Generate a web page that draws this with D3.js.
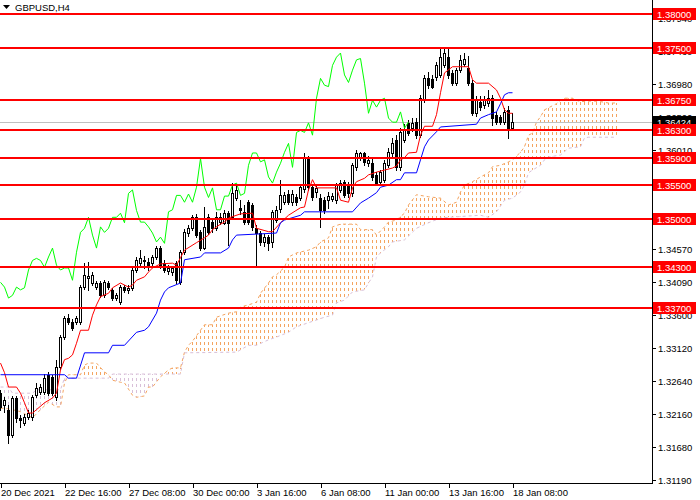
<!DOCTYPE html>
<html>
<head>
<meta charset="utf-8">
<script src="https://cdn.jsdelivr.net/npm/d3@7"></script>
<style>
  html, body { margin: 0; padding: 0; background: #fff; }
  svg { display: block; font-family: "Liberation Sans", Arial, sans-serif; }
</style>
</head>
<body>
<div id="chart"></div>
<script>
// GBPUSD H4 with Ichimoku

const symbolTitle = "GBPUSD,H4";

// candles, one per H4 bar (bar 0 = 20 Dec 2021 00:00)
const opens = [1.3246,1.3229,1.3221,1.3185,1.3239,1.3210,1.3202,1.3211,1.3211,1.3243,
  1.3248,1.3248,1.3272,1.3270,1.3240,1.3284,1.3328,1.3356,1.3350,1.3350,
  1.3350,1.3401,1.3414,1.3407,1.3401,1.3407,1.3389,1.3407,1.3397,1.3385,
  1.3379,1.3401,1.3397,1.3400,1.3426,1.3436,1.3438,1.3438,1.3436,1.3445,
  1.3458,1.3436,1.3424,1.3423,1.3436,1.3408,1.3452,1.3480,1.3487,1.3503,
  1.3481,1.3459,1.3503,1.3496,1.3487,1.3496,1.3495,1.3509,1.3503,1.3531,
  1.3516,1.3511,1.3525,1.3521,1.3487,1.3480,1.3467,1.3474,1.3467,1.3499,
  1.3514,1.3525,1.3537,1.3525,1.3532,1.3531,1.3543,1.3589,1.3547,1.3540,
  1.3531,1.3528,1.3528,1.3530,1.3528,1.3543,1.3554,1.3551,1.3538,1.3576,
  1.3589,1.3597,1.3582,1.3582,1.3565,1.3554,1.3557,1.3579,1.3597,1.3616,
  1.3576,1.3616,1.3641,1.3633,1.3642,1.3623,1.3674,1.3706,1.3705,1.3708,
  1.3711,1.3725,1.3737,1.3714,1.3699,1.3718,1.3728,1.3721,1.3699,1.3655,
  1.3671,1.3667,1.3669,1.3677,1.3652,1.3649,1.3642,1.3660,1.3633];
const highs = [1.3251,1.3240,1.3229,1.3242,1.3242,1.3214,1.3216,1.3221,1.3243,1.3261,
  1.3259,1.3274,1.3277,1.3272,1.3294,1.3331,1.3359,1.3362,1.3354,1.3359,
  1.3404,1.3436,1.3438,1.3423,1.3410,1.3410,1.3411,1.3410,1.3400,1.3392,
  1.3404,1.3404,1.3404,1.3429,1.3445,1.3455,1.3446,1.3443,1.3448,1.3461,
  1.3461,1.3440,1.3433,1.3432,1.3439,1.3455,1.3486,1.3492,1.3506,1.3508,
  1.3484,1.3518,1.3508,1.3502,1.3511,1.3509,1.3513,1.3512,1.3553,1.3549,
  1.3528,1.3521,1.3528,1.3524,1.3492,1.3483,1.3478,1.3477,1.3514,1.3519,
  1.3557,1.3540,1.3543,1.3543,1.3537,1.3551,1.3597,1.3592,1.3551,1.3549,
  1.3537,1.3532,1.3540,1.3538,1.3553,1.3557,1.3557,1.3554,1.3582,1.3601,
  1.3599,1.3599,1.3592,1.3589,1.3569,1.3572,1.3587,1.3604,1.3619,1.3623,
  1.3633,1.3639,1.3645,1.3648,1.3648,1.3681,1.3711,1.3715,1.3711,1.3730,
  1.3750,1.3750,1.3750,1.3718,1.3721,1.3740,1.3743,1.3739,1.3703,1.3680,
  1.3680,1.3680,1.3689,1.3681,1.3657,1.3652,1.3662,1.3665,1.3655];
const lows = [1.3221,1.3218,1.3173,1.3182,1.3204,1.3196,1.3199,1.3208,1.3207,1.3240,
  1.3245,1.3245,1.3243,1.3243,1.3236,1.3281,1.3325,1.3347,1.3338,1.3347,
  1.3347,1.3398,1.3397,1.3404,1.3398,1.3386,1.3386,1.3398,1.3382,1.3382,
  1.3376,1.3394,1.3392,1.3397,1.3423,1.3432,1.3429,1.3426,1.3432,1.3442,
  1.3429,1.3423,1.3420,1.3419,1.3407,1.3405,1.3449,1.3476,1.3484,1.3474,
  1.3455,1.3456,1.3478,1.3481,1.3484,1.3493,1.3493,1.3462,1.3500,1.3528,
  1.3508,1.3493,1.3493,1.3484,1.3430,1.3462,1.3461,1.3455,1.3459,1.3496,
  1.3511,1.3522,1.3522,1.3521,1.3521,1.3528,1.3540,1.3543,1.3528,1.3532,
  1.3489,1.3509,1.3516,1.3527,1.3524,1.3540,1.3532,1.3532,1.3534,1.3572,
  1.3587,1.3579,1.3578,1.3557,1.3550,1.3550,1.3554,1.3576,1.3592,1.3572,
  1.3572,1.3613,1.3623,1.3629,1.3619,1.3620,1.3671,1.3692,1.3692,1.3703,
  1.3708,1.3722,1.3706,1.3696,1.3696,1.3715,1.3724,1.3696,1.3652,1.3651,
  1.3660,1.3662,1.3665,1.3638,1.3639,1.3639,1.3639,1.3619,1.3630];
const closes = [1.3226,1.3236,1.3185,1.3239,1.3210,1.3207,1.3211,1.3217,1.3240,1.3253,
  1.3255,1.3268,1.3246,1.3246,1.3284,1.3328,1.3356,1.3350,1.3341,1.3356,
  1.3401,1.3419,1.3417,1.3419,1.3407,1.3389,1.3408,1.3401,1.3385,1.3389,
  1.3401,1.3397,1.3400,1.3426,1.3440,1.3443,1.3440,1.3430,1.3445,1.3458,
  1.3433,1.3426,1.3429,1.3429,1.3411,1.3452,1.3481,1.3487,1.3503,1.3477,
  1.3458,1.3489,1.3481,1.3487,1.3503,1.3503,1.3509,1.3495,1.3538,1.3543,
  1.3513,1.3496,1.3496,1.3489,1.3480,1.3467,1.3474,1.3465,1.3511,1.3514,
  1.3535,1.3535,1.3525,1.3537,1.3525,1.3547,1.3589,1.3547,1.3532,1.3546,
  1.3514,1.3514,1.3534,1.3534,1.3550,1.3553,1.3535,1.3538,1.3579,1.3597,
  1.3597,1.3584,1.3587,1.3562,1.3553,1.3569,1.3582,1.3598,1.3611,1.3576,
  1.3627,1.3630,1.3627,1.3641,1.3623,1.3677,1.3706,1.3696,1.3694,1.3725,
  1.3737,1.3743,1.3711,1.3700,1.3718,1.3733,1.3735,1.3699,1.3655,1.3674,
  1.3664,1.3674,1.3677,1.3648,1.3642,1.3642,1.3657,1.3633,1.36424];

// Ichimoku lines as [bar, price] points
const tenkan = [[0,1.3290],[1,1.3276],[2,1.3255],[4,1.3255],[5,1.3246],[6,1.3232],[7,1.3217],[8,1.3217],
  [9,1.3222],[11,1.3232],[13,1.3239],[14,1.3246],[15,1.3280],[16,1.3295],[17,1.3297],[18,1.3302],
  [19,1.3319],[20,1.3338],[22,1.3338],[23,1.3360],[24,1.3375],[25,1.3387],[27,1.3392],[28,1.3400],
  [30,1.3407],[32,1.3401],[33,1.3404],[34,1.3411],[36,1.3416],[37,1.3423],[38,1.3429],[40,1.3435],
  [43,1.3436],[44,1.3433],[45,1.3444],[46,1.3455],[49,1.3466],[51,1.3473],[52,1.3477],[53,1.3485],
  [55,1.3493],[56,1.3496],[57,1.3502],[60,1.3508],[63,1.3509],[64,1.3487],[67,1.3482],[68,1.3482],
  [70,1.3495],[72,1.3506],[75,1.3517],[76,1.3518],[77,1.3543],[78,1.3558],[79,1.3546],[84,1.3546],
  [85,1.3528],[87,1.3525],[88,1.3546],[89,1.3555],[91,1.3560],[92,1.3565],[94,1.3569],[96,1.3572],
  [98,1.3575],[99,1.3578],[100,1.3587],[101,1.3590],[102,1.3597],[104,1.3598],[105,1.3623],[106,1.3636],
  [108,1.3636],[109,1.3653],[110,1.3685],[111,1.3714],[113,1.3723],[117,1.3723],[118,1.3704],[119,1.3699],
  [122,1.3699],[124,1.3689],[125,1.3677],[126,1.3660],[127,1.3655],[128,1.3655]];
const kijun = [[0,1.3273],[16,1.3273],[17,1.3268],[19,1.3268],[21,1.3305],[27,1.3305],[28,1.3316],[31,1.3316],
  [34,1.3335],[36,1.3338],[37,1.3343],[39,1.3363],[40,1.3382],[41,1.3394],[42,1.3400],[45,1.3407],
  [46,1.3441],[50,1.3445],[51,1.3451],[55,1.3451],[57,1.3458],[58,1.3470],[59,1.3477],[69,1.3480],
  [70,1.3495],[71,1.3499],[75,1.3506],[76,1.3511],[88,1.3511],[90,1.3524],[92,1.3531],[94,1.3539],
  [95,1.3547],[97,1.3550],[99,1.3558],[100,1.3558],[101,1.3568],[104,1.3568],[105,1.3587],[106,1.3606],
  [107,1.3616],[109,1.3628],[110,1.3635],[119,1.3639],[120,1.3648],[122,1.3653],[124,1.3657],[125,1.3669],
  [126,1.3682],[127,1.3685],[128,1.3685]];
const senkouA = [[0,1.3224],[1,1.3224],[3,1.3222],[5,1.3219],[6,1.3216],[8,1.3210],[10,1.3222],[12,1.3233],
  [14,1.3226],[15,1.3226],[16,1.3261],[17,1.3273],[20,1.3273],[21,1.3287],[22,1.3290],[24,1.3290],
  [26,1.3277],[27,1.3273],[28,1.3265],[30,1.3262],[31,1.3261],[33,1.3243],[34,1.3240],[36,1.3242],
  [37,1.3255],[38,1.3255],[40,1.3270],[42,1.3280],[43,1.3283],[45,1.3283],[46,1.3306],[47,1.3316],
  [48,1.3322],[49,1.3330],[50,1.3338],[51,1.3346],[53,1.3346],[54,1.3357],[57,1.3363],[59,1.3365],
  [60,1.3372],[62,1.3375],[64,1.3379],[65,1.3392],[67,1.3407],[68,1.3416],[69,1.3419],[71,1.3430],
  [72,1.3445],[74,1.3451],[77,1.3455],[79,1.3460],[80,1.3467],[82,1.3473],[83,1.3489],[85,1.3493],
  [89,1.3493],[90,1.3485],[93,1.3485],[94,1.3477],[96,1.3489],[97,1.3496],[99,1.3499],[101,1.3509],
  [102,1.3521],[104,1.3536],[107,1.3533],[110,1.3531],[112,1.3521],[114,1.3525],[115,1.3540],[116,1.3550],
  [118,1.3555],[120,1.3562],[122,1.3568],[123,1.3577],[125,1.3579],[127,1.3584],[128,1.3587],[130,1.3598],
  [131,1.3606],[132,1.3623],[133,1.3626],[134,1.3642],[135,1.3650],[136,1.3660],[137,1.3663],[139,1.3669],
  [140,1.3674],[141,1.3677],[143,1.3677],[144,1.3674],[145,1.3672],[148,1.3673],[150,1.3672],[152,1.3670],
  [154,1.3670]];
const senkouB = [[0,1.3255],[2,1.3255],[3,1.3246],[8,1.3246],[9,1.3251],[15,1.3251],[16,1.3268],[27,1.3268],
  [28,1.3274],[45,1.3274],[46,1.3305],[59,1.3306],[62,1.3316],[64,1.3316],[67,1.3324],[69,1.3328],
  [72,1.3335],[74,1.3343],[77,1.3349],[79,1.3353],[81,1.3357],[83,1.3360],[84,1.3378],[86,1.3382],
  [88,1.3394],[91,1.3397],[92,1.3407],[93,1.3416],[94,1.3445],[95,1.3451],[97,1.3460],[98,1.3467],
  [101,1.3470],[104,1.3487],[107,1.3495],[110,1.3502],[112,1.3503],[120,1.3506],[122,1.3503],[124,1.3511],
  [126,1.3528],[128,1.3531],[130,1.3540],[131,1.3550],[132,1.3568],[133,1.3572],[135,1.3579],[136,1.3587],
  [137,1.3591],[140,1.3594],[142,1.3604],[145,1.3606],[146,1.3619],[147,1.3620],[154,1.3620]];
const chikouShift = 26;

// horizontal levels and labels
const levels = [1.38000, 1.37500, 1.36750, 1.36300, 1.35900, 1.35500, 1.35000, 1.34300, 1.33700];
const lastPrice = 1.36424;
const priceTicks = [1.37940, 1.37460, 1.36980, 1.36500, 1.36010, 1.35530, 1.35050, 1.34570,
  1.34090, 1.33600, 1.33120, 1.32640, 1.32160, 1.31680, 1.31190];
const timeTickBars = [0, 16, 32, 48, 64, 80, 96, 112, 128];
const timeTickLabels = ["20 Dec 2021", "22 Dec 16:00", "27 Dec 08:00", "30 Dec 00:00", "3 Jan 16:00",
  "6 Jan 08:00", "11 Jan 00:00", "13 Jan 16:00", "18 Jan 08:00"];

const W = 700, H = 500, plotW = 652, plotH = 483;

const x = d3.scaleLinear().domain([0, 1]).range([0.5, 4.5]);           // 4 px per bar
const y = d3.scaleLinear().domain([1.31148, 1.38205]).range([plotH, 0]);

const svg = d3.select("#chart").append("svg")
  .attr("width", W).attr("height", H);

const defs = svg.append("defs");
defs.append("clipPath").attr("id", "plotClip")
  .append("rect").attr("x", 0).attr("y", 0).attr("width", plotW).attr("height", plotH);

// dotted vertical hatch, one column per bar
function hatch(id, color) {
  const p = defs.append("pattern").attr("id", id)
    .attr("patternUnits", "userSpaceOnUse")
    .attr("x", 0).attr("y", 0).attr("width", 4).attr("height", 6);
  p.append("rect").attr("x", 0).attr("y", 0).attr("width", 1).attr("height", 3).attr("fill", color);
}
hatch("hatchUp", "#f4a460");
hatch("hatchDown", "#d8bfd8");

const pt = d => [x(d[0]), y(d[1])];
const line = d3.line();

// clip regions above / below senkou B
const bPts = senkouB.map(pt);
const bFirst = bPts[0][0] - 3, bLast = bPts[bPts.length - 1][0] + 3;
const abovePoly = [[bFirst, bPts[0][1]], ...bPts, [bLast, bPts[bPts.length - 1][1]], [bLast, -10], [bFirst, -10]];
const belowPoly = [[bFirst, bPts[0][1]], ...bPts, [bLast, bPts[bPts.length - 1][1]], [bLast, plotH + 10], [bFirst, plotH + 10]];
defs.append("clipPath").attr("id", "aboveB").append("path").attr("d", line(abovePoly) + "Z");
defs.append("clipPath").attr("id", "belowB").append("path").attr("d", line(belowPoly) + "Z");

const plot = svg.append("g").attr("clip-path", "url(#plotClip)");

// cloud
const aPts = senkouA.map(pt);
const cloudPoly = [[aPts[0][0] - 1, aPts[0][1]], ...aPts, [aPts[aPts.length - 1][0] + 1, aPts[aPts.length - 1][1]],
  [bPts[bPts.length - 1][0] + 1, bPts[bPts.length - 1][1]], ...bPts.slice().reverse(), [bPts[0][0] - 1, bPts[0][1]]];
plot.append("g").attr("clip-path", "url(#aboveB)")
  .append("path").attr("d", line(cloudPoly) + "Z").attr("fill", "url(#hatchUp)");
plot.append("g").attr("clip-path", "url(#belowB)")
  .append("path").attr("d", line(cloudPoly) + "Z").attr("fill", "url(#hatchDown)");

plot.append("path").attr("d", line(aPts)).attr("fill", "none")
  .attr("stroke", "#f4a460").attr("stroke-width", 1).attr("stroke-dasharray", "3,3");
plot.append("path").attr("d", line(bPts)).attr("fill", "none")
  .attr("stroke", "#d8bfd8").attr("stroke-width", 1).attr("stroke-dasharray", "3,3");

// last price line
plot.append("line")
  .attr("x1", 0).attr("x2", plotW)
  .attr("y1", Math.round(y(lastPrice)) + 0.5).attr("y2", Math.round(y(lastPrice)) + 0.5)
  .attr("stroke", "#c0c0c0").attr("stroke-width", 1);

// candles
const bars = d3.range(closes.length);
const cg = plot.append("g").attr("shape-rendering", "crispEdges");
cg.selectAll(".wick").data(bars).enter().append("line")
  .attr("x1", i => x(i)).attr("x2", i => x(i))
  .attr("y1", i => Math.round(y(highs[i]))).attr("y2", i => Math.round(y(lows[i])) + 1)
  .attr("stroke", "#000").attr("stroke-width", 1);
cg.selectAll(".body").data(bars).enter().append("rect")
  .attr("x", i => x(i) - 1)
  .attr("width", 2)
  .attr("y", i => Math.round(y(Math.max(opens[i], closes[i]))) + 0.5)
  .attr("height", i => Math.max(1, Math.round(Math.abs(y(opens[i]) - y(closes[i])))))
  .attr("fill", i => closes[i] >= opens[i] ? "#fff" : "#000")
  .attr("stroke", "#000").attr("stroke-width", 1);

// tenkan / kijun / chikou
plot.append("path").attr("d", line(tenkan.map(pt))).attr("fill", "none")
  .attr("stroke", "#ff0000").attr("stroke-width", 1);
plot.append("path").attr("d", line(kijun.map(pt))).attr("fill", "none")
  .attr("stroke", "#0000ff").attr("stroke-width", 1);
const chikouPts = d3.range(closes.length - chikouShift).map(i => [x(i), y(closes[i + chikouShift])]);
plot.append("path").attr("d", line(chikouPts)).attr("fill", "none")
  .attr("stroke", "#00ff00").attr("stroke-width", 1);

// horizontal levels
plot.selectAll(".lvl").data(levels).enter().append("line")
  .attr("x1", 0).attr("x2", plotW)
  .attr("y1", d => Math.round(y(d))).attr("y2", d => Math.round(y(d)))
  .attr("stroke", "#ff0000").attr("stroke-width", 2);

// axes frame
svg.append("line").attr("x1", plotW + 0.5).attr("x2", plotW + 0.5).attr("y1", 0).attr("y2", plotH + 1)
  .attr("stroke", "#000");
svg.append("line").attr("x1", 0).attr("x2", plotW + 1).attr("y1", plotH + 0.5).attr("y2", plotH + 0.5)
  .attr("stroke", "#000");

const fontSize = "9.5px";

// price ticks
const yt = svg.append("g");
priceTicks.forEach(v => {
  const yy = Math.round(y(v)) + 0.5;
  yt.append("line").attr("x1", plotW).attr("x2", plotW + 4).attr("y1", yy).attr("y2", yy).attr("stroke", "#000");
  yt.append("text").attr("x", plotW + 6).attr("y", yy + 3.5)
    .style("font-size", fontSize).attr("fill", "#000").text(v.toFixed(5));
});

// time ticks
const xt = svg.append("g");
timeTickBars.forEach((b, k) => {
  const xx = Math.round(x(b)) + 0.5;
  xt.append("line").attr("x1", xx).attr("x2", xx).attr("y1", plotH).attr("y2", plotH + 5).attr("stroke", "#000");
  xt.append("text").attr("x", xx - 0.5).attr("y", plotH + 13)
    .style("font-size", fontSize).attr("fill", "#000").text(timeTickLabels[k]);
});

// price labels on the right
function priceTag(v, bg) {
  const yy = Math.round(y(v));
  svg.append("rect").attr("x", plotW + 1).attr("y", yy - 6).attr("width", 43).attr("height", 12).attr("fill", bg);
  svg.append("text").attr("x", plotW + 5).attr("y", yy + 3.5)
    .style("font-size", fontSize).attr("fill", "#fff").text(v.toFixed(5));
}
priceTag(lastPrice, "#000");
levels.forEach(v => priceTag(v, "#ff0000"));

// title
svg.append("path").attr("d", "M3,5 L10,5 L6.5,9 Z").attr("fill", "#000");
svg.append("text").attr("x", 15).attr("y", 10.5)
  .style("font-size", fontSize).attr("fill", "#000").text(symbolTitle);
</script>
</body>
</html>
